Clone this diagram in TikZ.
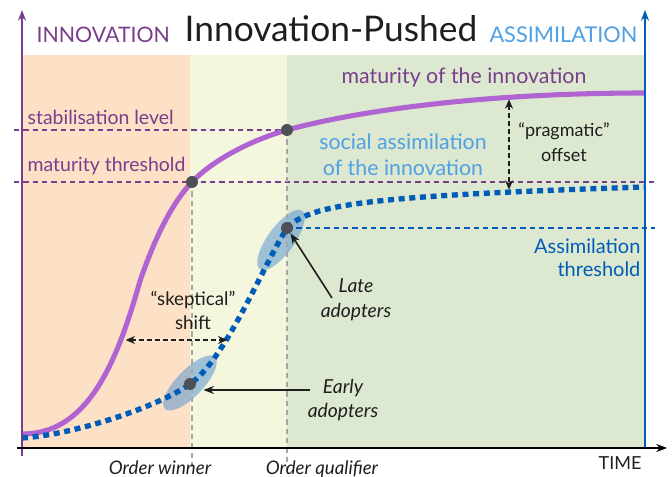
\documentclass[tikz,border=0pt]{standalone}
\usepackage{fontspec}
\setmainfont{Lato}
\usetikzlibrary{shapes.geometric,arrows.meta}
\definecolor{peach}{RGB}{252,225,198}
\definecolor{cream}{RGB}{244,246,221}
\definecolor{sage}{RGB}{220,232,208}
\definecolor{innov}{RGB}{176,100,210}
\definecolor{innovdark}{RGB}{120,62,140}
\definecolor{assim}{RGB}{0,92,185}
\definecolor{assimlight}{RGB}{80,160,228}
\definecolor{spotgrey}{RGB}{78,80,88}
\definecolor{ink}{RGB}{30,30,30}
\begin{document}
\begin{tikzpicture}[x=0.75pt, y=-0.75pt,
    every node/.style={font=\fontsize{14}{18}\selectfont, text=ink, inner sep=1pt},
    spot/.style={circle, fill=spotgrey, inner sep=0pt, minimum size=9pt},
    group/.style={ellipse, fill=assim!70!white, opacity=0.5, inner sep=0pt, minimum width=54pt, minimum height=20pt},
    level/.style={innovdark, line width=1pt, dash pattern=on 4pt off 3pt},
    guide/.style={gray!70, line width=1pt, dash pattern=on 4pt off 3pt},
    twoway/.style={ink, line width=1.2pt, dash pattern=on 3.5pt off 2.5pt, {Stealth[length=7pt,width=6pt]}-{Stealth[length=7pt,width=6pt]}},
    pointer/.style={ink, line width=1.2pt, -{Stealth[length=8pt,width=6pt]}},
    axis/.style={line width=1.6pt, -{Stealth[length=8pt,width=6pt]}}]
  \useasboundingbox (0,0) rectangle (672,477);

  \fill[peach] (22,55) rectangle (190,448);
  \fill[cream] (190,55) rectangle (287,448);
  \fill[sage] (287,55) rectangle (645,448);

  \coordinate (stabpos) at (287,130);
  \coordinate (matpos) at (192,182);
  \coordinate (latepos) at (287,228);
  \coordinate (earlypos) at (190,384);

  \node[group, rotate=54] (lategroup) at (281,240) {};
  \node[group, rotate=46] (earlygroup) at (190,383) {};

  \draw[level] (14,130) -- (stabpos);
  \draw[level] (14,182) -- (655,182);
  \draw[guide] (matpos) -- (192,470);
  \draw[guide] (stabpos) -- (287,470);
  \draw[assim, line width=1pt, dash pattern=on 4pt off 3pt] (latepos) -- (655,228);

  \draw[innov, line width=3.8pt] (22,434) .. controls (85,434) and (115,370) .. (140,281)
    .. controls (158,229) and (175,200) .. (matpos)
    .. controls (215,158) and (255,139) .. (stabpos)
    .. controls (330,118) and (450,93) .. (645,93);
  \draw[assim, line width=4pt, dash pattern=on 4.5pt off 3.5pt] (22,438) .. controls (80,434) and (163,404) .. (earlypos)
    .. controls (225,360) and (262,268) .. (latepos)
    .. controls (310,205) and (360,196) .. (645,187);

  \node[spot] (stab) at (stabpos) {};
  \node[spot] (mat) at (matpos) {};
  \node[spot] (late) at (latepos) {};
  \node[spot] (early) at (earlypos) {};

  \draw[axis, innovdark] (22,456) -- (22,10);
  \draw[axis, assim] (645,448) -- (645,10);
  \draw[axis, black] (17,448) -- (667,448);

  \node[font=\fontsize{26.5}{30}\selectfont] (title) at (331,29) {Innovation-Pushed};
  \node[font=\fontsize{16}{18}\selectfont, text=innovdark, anchor=west] (innovlab) at (35,35) {INNOVATION};
  \node[font=\fontsize{16.3}{18}\selectfont, text=assimlight, anchor=east] (assimlab) at (639,35) {ASSIMILATION};

  \node[text=innovdark, font=\fontsize{14.6}{18}\selectfont, anchor=west] (stablab) at (26,117) {stabilisation level};
  \node[text=innovdark, font=\fontsize{14.6}{18}\selectfont, anchor=west] (matlab) at (26,166) {maturity threshold};
  \node[text=innovdark, font=\fontsize{16}{18}\selectfont] (maturity) at (464,77) {maturity of the innovation};
  \node[text=assimlight, align=center, font=\fontsize{16}{19.5}\selectfont] (social) at (403,155) {social assimilation\\of the innovation};
  \node[align=center, font=\fontsize{13.5}{19}\selectfont] (pragma) at (564,142) {“pragmatic”\\offset};
  \node[align=center] (skept) at (193,310) {“skeptical”\\shift};
  \node[align=center, font=\fontsize{14.5}{19}\itshape] (latelab) at (356,300) {Late\\adopters};
  \node[align=center, font=\fontsize{14.5}{18}\itshape] (earlylab) at (343,400) {Early\\adopters};
  \node[text=assim, align=right, anchor=east, font=\fontsize{15}{17.5}\selectfont] (thrlab) at (642,258) {Assimilation\\threshold};
  \node[font=\fontsize{13.5}{16}\selectfont] (timelab) at (620,463) {TIME};
  \node[font=\fontsize{14}{18}\itshape, anchor=base] (winner) at (160,475) {Order winner};
  \node[font=\fontsize{14}{18}\itshape, anchor=base] (qualifier) at (322,475) {Order qualifier};

  \coordinate (pragtop) at (509,98);
  \coordinate (pragbot) at (509,191);
  \coordinate (skeptleft) at (123,340);
  \coordinate (skeptright) at (230,340);
  \coordinate (latetail) at (332,298);
  \coordinate (earlytail) at (310,390);

  \draw[twoway, shorten <=1pt, shorten >=1pt] (pragtop) -- (pragbot);
  \draw[twoway, shorten <=2pt, shorten >=2pt] (skeptleft) -- (skeptright);
  \draw[pointer] (latetail) -- (late);
  \draw[pointer, shorten >=10pt] (earlytail) -- (earlytail -| early);
\end{tikzpicture}
\end{document}
